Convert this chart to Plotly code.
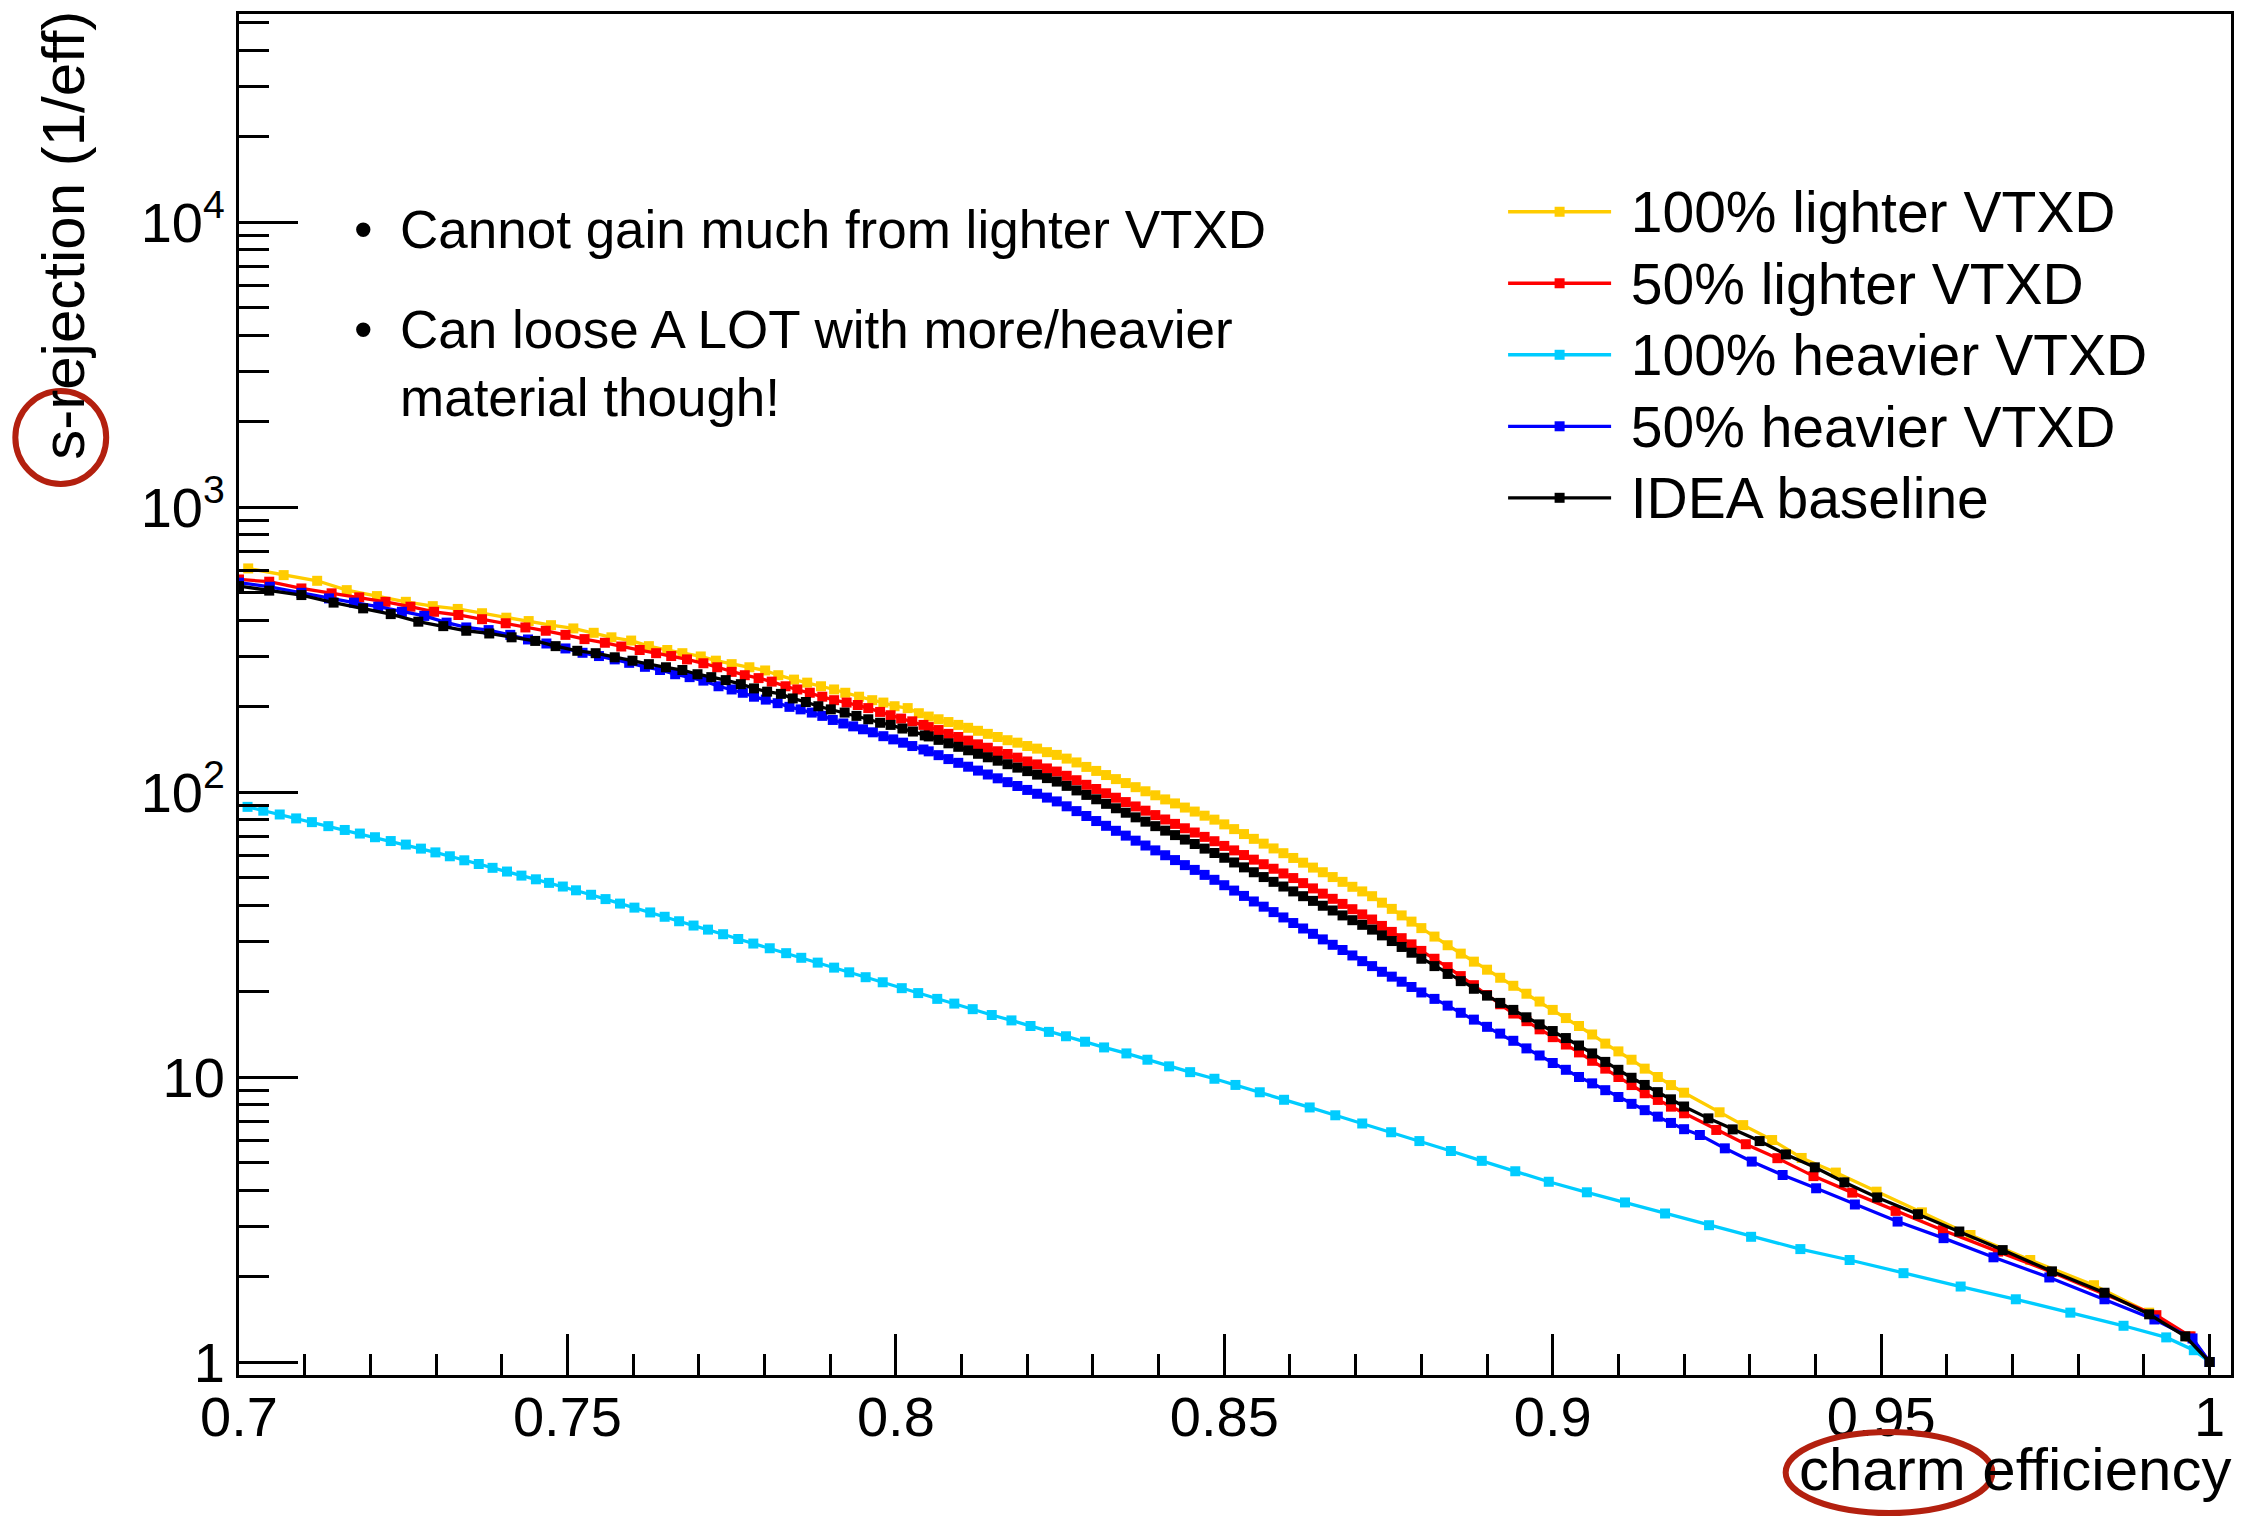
import plotly.graph_objects as go

# ---------------- data ----------------
# shared efficiency grid for the dense middle part of the four main curves
eff_mid = [0.805, 0.8065, 0.808, 0.8095, 0.811, 0.8125, 0.814, 0.8155, 0.817, 0.8185,
           0.820, 0.8215, 0.823, 0.8245, 0.826, 0.8275, 0.829, 0.8305, 0.832, 0.8335,
           0.835, 0.8365, 0.838, 0.8395, 0.841, 0.8425, 0.844, 0.8455, 0.847, 0.8485,
           0.850, 0.8515, 0.853, 0.8545, 0.856, 0.8575, 0.859, 0.8605, 0.862, 0.8635,
           0.865, 0.8665, 0.868, 0.8695, 0.871, 0.8725, 0.874, 0.8755, 0.877, 0.8785,
           0.880, 0.882, 0.884, 0.886, 0.888, 0.890, 0.892, 0.894, 0.896, 0.898,
           0.900, 0.902, 0.904, 0.906, 0.908, 0.910, 0.912, 0.914, 0.916, 0.918, 0.920]

# 100% lighter VTXD (yellow)
yellow_eff_lo = [0.7014, 0.7068, 0.7119, 0.7164, 0.7210, 0.7254, 0.7295, 0.7333, 0.7370, 0.7407,
                 0.7441, 0.7475, 0.7509, 0.7540, 0.7567, 0.7597, 0.7624, 0.7652, 0.7675, 0.7703,
                 0.7726, 0.7750, 0.7777, 0.7801, 0.7821, 0.7845, 0.7865, 0.7886, 0.7906, 0.7923,
                 0.7944, 0.7964, 0.7981, 0.7998, 0.8018, 0.8035]
yellow_rej_lo = [609, 577, 551, 511, 487, 465, 449, 439, 424, 409,
                 398, 385, 375, 362, 349, 340, 325, 315, 307, 299,
                 289, 281, 274, 267, 257, 248, 242, 235, 229, 223,
                 216, 210, 206, 200, 197, 189]
yellow_rej_mid = [184, 180, 176, 172, 168, 164, 160, 156, 152, 149,
                  145, 142, 138, 135, 131, 127, 122.5, 118.6, 114.7, 111,
                  107.5, 104, 100.6, 97.4, 94.2, 91.2, 88.2, 85.4, 82.6, 80.0,
                  77.0, 74.1, 71.2, 68.5, 65.9, 63.4, 61.0, 58.7, 56.5, 54.3,
                  52.3, 50.3, 48.4, 46.5, 44.8, 43.1, 40.9, 38.9, 36.9, 35.1,
                  33.3, 31.1, 29.0, 27.1, 25.4, 23.8, 22.3, 20.9, 19.6, 18.4,
                  17.2, 16.1, 15.1, 14.1, 13.1, 12.3, 11.5, 10.7, 10.0, 9.37, 8.81]
yellow_eff_hi = [0.9254, 0.9290, 0.9334, 0.9379, 0.9431, 0.9493, 0.9562, 0.9636, 0.9727, 0.9824,
                 0.9908, 0.9969, 1.0]
yellow_rej_hi = [7.52, 6.78, 6.01, 5.20, 4.62, 3.96, 3.35, 2.79, 2.28, 1.86, 1.49, 1.23, 1.0]

# 50% lighter VTXD (red)
red_eff_lo = [0.7000, 0.7046, 0.7095, 0.7141, 0.7183, 0.7223, 0.7261, 0.7297, 0.7334, 0.7370,
              0.7406, 0.7436, 0.7467, 0.7497, 0.7526, 0.7557, 0.7582, 0.7610, 0.7635, 0.7658,
              0.7682, 0.7707, 0.7728, 0.7750, 0.7770, 0.7791, 0.7811, 0.7832, 0.7850, 0.7869,
              0.7888, 0.7906, 0.7925, 0.7942, 0.7958, 0.7976, 0.7992, 0.8008, 0.8025, 0.8042]
red_rej_lo = [557, 547, 518, 498, 482, 465, 447, 429, 418, 404,
              391, 378, 368, 356, 344, 334, 324, 315, 307, 300,
              292, 283, 274, 264, 257, 251, 244, 235, 229, 223,
              216, 210, 206, 202, 197, 191, 186, 181, 177, 172]
red_rej_mid = [169, 165, 160, 156, 151.5, 147, 143, 139, 136, 132,
               128, 125, 121, 118, 114, 110, 106, 102.5, 99.0, 95.5,
               92.2, 89.0, 86.0, 83.0, 80.1, 77.3, 74.6, 72.1, 69.6, 67.2,
               64.7, 62.4, 60.1, 57.9, 55.8, 53.8, 51.8, 49.9, 47.9, 45.9,
               44.0, 42.2, 40.5, 38.8, 37.2, 35.7, 33.9, 32.3, 30.7, 29.2,
               27.7, 26.0, 24.3, 22.6, 21.0, 19.4, 18.0, 16.7, 15.7, 14.7,
               13.8, 13.0, 12.2, 11.4, 10.7, 10.0, 9.37, 8.77, 8.31, 7.87, 7.46]
red_eff_hi = [0.9249, 0.9294, 0.9342, 0.9397, 0.9456, 0.9522, 0.9594, 0.9678, 0.9759, 0.9840,
              0.9919, 0.9971, 1.0]
red_rej_hi = [6.52, 5.81, 5.19, 4.49, 3.93, 3.39, 2.90, 2.44, 2.07, 1.73, 1.46, 1.23, 1.0]

# 100% heavier VTXD (cyan)
cyan_eff = [0.7013, 0.7037, 0.7062, 0.7087, 0.7111, 0.7136, 0.7161, 0.7184, 0.7207, 0.7231,
            0.7254, 0.7277, 0.7299, 0.7321, 0.7343, 0.7365, 0.7386, 0.7408, 0.7430, 0.7452,
            0.7472, 0.7493, 0.7513, 0.7536, 0.7558, 0.7580, 0.7602, 0.7626, 0.7648, 0.7670,
            0.7692, 0.7714, 0.7737, 0.7760, 0.7783, 0.7808, 0.7833, 0.7856, 0.7881, 0.7906,
            0.7929, 0.7954, 0.7980, 0.8009, 0.8034, 0.8063, 0.8089, 0.8117, 0.8146, 0.8176,
            0.8205, 0.8233, 0.8259, 0.8288, 0.8317, 0.8351, 0.8383, 0.8416, 0.8448, 0.8485,
            0.8517, 0.8554, 0.8591, 0.8630, 0.8669, 0.8710, 0.8754, 0.8797, 0.8845, 0.8892,
            0.8943, 0.8994, 0.9052, 0.9110, 0.9171, 0.9238, 0.9302, 0.9377, 0.9452, 0.9534,
            0.9621, 0.9705, 0.9788, 0.9869, 0.9934, 0.9976, 1.0]
cyan_rej = [88.7, 86.0, 83.4, 80.8, 78.4, 75.9, 73.6, 71.5, 69.4, 67.3,
            65.4, 63.3, 61.4, 59.5, 57.6, 55.9, 54.2, 52.6, 50.9, 49.4,
            48.0, 46.6, 45.2, 43.6, 42.1, 40.6, 39.3, 37.8, 36.5, 35.2,
            34.0, 32.9, 31.7, 30.5, 29.4, 28.3, 27.2, 26.2, 25.2, 24.2,
            23.3, 22.4, 21.5, 20.5, 19.7, 18.8, 18.1, 17.3, 16.5, 15.8,
            15.1, 14.4, 13.9, 13.3, 12.7, 12.1, 11.5, 10.9, 10.4, 9.86,
            9.38, 8.84, 8.32, 7.82, 7.34, 6.87, 6.40, 5.96, 5.50, 5.08,
            4.67, 4.29, 3.94, 3.63, 3.32, 3.02, 2.75, 2.49, 2.28, 2.05,
            1.84, 1.66, 1.49, 1.34, 1.22, 1.10, 1.0]

# 50% heavier VTXD (blue)
blue_eff_lo = [0.7000, 0.7047, 0.7095, 0.7137, 0.7175, 0.7212, 0.7248, 0.7282, 0.7316, 0.7346,
               0.7380, 0.7413, 0.7440, 0.7468, 0.7497, 0.7523, 0.7548, 0.7572, 0.7594, 0.7618,
               0.7641, 0.7664, 0.7686, 0.7707, 0.7730, 0.7750, 0.7767, 0.7784, 0.7802, 0.7820,
               0.7838, 0.7855, 0.7872, 0.7888, 0.7904, 0.7920, 0.7935, 0.7950, 0.7965, 0.7981,
               0.7996, 0.8011, 0.8025, 0.8042]
blue_rej_lo = [543, 525, 500, 478, 462, 447, 429, 415, 393, 378,
               370, 356, 343, 332, 319, 308, 300, 292, 284, 275,
               268, 259, 253, 246, 235, 229, 223, 216, 211, 205,
               199, 195, 190, 185, 179, 174, 170, 166, 162, 157,
               153, 149, 145, 141]
blue_rej_mid = [138.9, 134.7, 130.5, 126.6, 122.7, 118.9, 115.2, 111.7, 108.3, 105.0,
                101.7, 98.6, 95.6, 92.7, 89.1, 85.7, 82.4, 79.1, 76.1, 73.1,
                70.3, 67.5, 64.9, 62.4, 60.0, 57.7, 55.4, 53.3, 51.2, 49.2,
                47.1, 45.1, 43.2, 41.3, 39.6, 37.9, 36.3, 34.7, 33.2, 31.8,
                30.4, 29.1, 27.9, 26.7, 25.5, 24.5, 23.4, 22.5, 21.6, 20.7,
                19.8, 18.8, 17.8, 16.8, 15.9, 15.0, 14.2, 13.4, 12.6, 11.9,
                11.2, 10.6, 10.0, 9.50, 8.99, 8.51, 8.05, 7.65, 7.26, 6.90, 6.56]
blue_eff_hi = [0.9224, 0.9262, 0.9303, 0.9350, 0.9401, 0.9460, 0.9525, 0.9595, 0.9671, 0.9756,
               0.9840, 0.9916, 0.9974, 1.0]
blue_rej_hi = [6.26, 5.62, 5.05, 4.53, 4.07, 3.57, 3.11, 2.72, 2.33, 1.98, 1.66, 1.41, 1.21, 1.0]

# IDEA baseline (black)
black_eff_lo = [0.7000, 0.7046, 0.7095, 0.7144, 0.7189, 0.7231, 0.7273, 0.7311, 0.7346, 0.7381,
                0.7415, 0.7451, 0.7482, 0.7515, 0.7543, 0.7572, 0.7599, 0.7624, 0.7650, 0.7675,
                0.7698, 0.7719, 0.7741, 0.7764, 0.7784, 0.7804, 0.7825, 0.7843, 0.7863, 0.7882,
                0.7901, 0.7922, 0.7940, 0.7958, 0.7976, 0.7992, 0.8010, 0.8026, 0.8044]
black_rej_lo = [528, 509, 491, 462, 441, 421, 396, 382, 368, 360,
                349, 339, 325, 313, 307, 297, 289, 281, 274, 268,
                259, 253, 247, 239, 231, 225, 221, 213, 207, 200,
                195, 190, 185, 180, 175, 172, 167, 163, 158]
black_rej_mid = [156.7, 152.4, 148.2, 144.1, 140.1, 136.2, 132.4, 128.8, 125.2, 121.8,
                 118.4, 115.1, 111.9, 108.8, 105.1, 101.3, 97.7, 94.3, 90.9, 87.7,
                 84.6, 81.5, 78.7, 75.9, 73.2, 70.6, 68.1, 65.7, 63.3, 61.1,
                 58.8, 56.6, 54.4, 52.3, 50.3, 48.4, 46.6, 44.8, 43.1, 41.5,
                 39.9, 38.4, 36.9, 35.5, 34.2, 32.9, 31.4, 30.0, 28.6, 27.3,
                 26.0, 24.5, 23.0, 21.7, 20.4, 19.3, 18.2, 17.2, 16.2, 15.3,
                 14.5, 13.7, 12.9, 12.1, 11.3, 10.6, 9.94, 9.38, 8.85, 8.35, 7.88]
black_eff_hi = [0.9237, 0.9274, 0.9315, 0.9355, 0.9399, 0.9444, 0.9494, 0.9556, 0.9619, 0.9685,
                0.9760, 0.9840, 0.9908, 0.9963, 1.0]
black_rej_hi = [7.16, 6.55, 5.96, 5.35, 4.82, 4.27, 3.78, 3.30, 2.87, 2.47, 2.08, 1.75, 1.47, 1.23, 1.0]

series_names = ["100% lighter VTXD", "50% lighter VTXD", "100% heavier VTXD",
                "50% heavier VTXD", "IDEA baseline"]
series_colors = ["#FFCC00", "#FF0000", "#00CCFF", "#0000FF", "#000000"]

x_tick_vals = [0.7, 0.75, 0.8, 0.85, 0.9, 0.95, 1.0]
x_tick_text = ["0.7", "0.75", "0.8", "0.85", "0.9", "0.95", "1"]
x_minor_vals = [0.71, 0.72, 0.73, 0.74, 0.76, 0.77, 0.78, 0.79, 0.81, 0.82, 0.83, 0.84,
                0.86, 0.87, 0.88, 0.89, 0.91, 0.92, 0.93, 0.94, 0.96, 0.97, 0.98, 0.99]
y_tick_vals = [1, 10, 100, 1000, 10000]
y_tick_text = ["1", "10", "10<sup>2</sup>", "10<sup>3</sup>", "10<sup>4</sup>"]
y_minor_vals = [m * d for d in (1, 10, 100, 1000) for m in range(2, 10)] + [20000, 30000, 40000, 50000]

bullet_lines = ["Cannot gain much from lighter VTXD",
                "Can loose A LOT with more/heavier",
                "material though!"]

# ---------------- assemble series ----------------
xs = [yellow_eff_lo + eff_mid + yellow_eff_hi,
      red_eff_lo + eff_mid + red_eff_hi,
      cyan_eff,
      blue_eff_lo + eff_mid + blue_eff_hi,
      black_eff_lo + eff_mid + black_eff_hi]
ys = [yellow_rej_lo + yellow_rej_mid + yellow_rej_hi,
      red_rej_lo + red_rej_mid + red_rej_hi,
      cyan_rej,
      blue_rej_lo + blue_rej_mid + blue_rej_hi,
      black_rej_lo + black_rej_mid + black_rej_hi]

# ---------------- layout geometry ----------------
W, H = 2241, 1516
ML, MR, MT, MB = 239, 7, 14, 141
PW, PH = W - ML - MR, H - MT - MB
FONT = "Liberation Sans, Arial, Helvetica, sans-serif"


def px(xp):
    return (xp - ML) / PW


def py(yp):
    return (H - MB - yp) / PH


fig = go.Figure()
for name, color, x, y in zip(series_names, series_colors, xs, ys):
    fig.add_trace(go.Scatter(
        x=x, y=y, mode="lines+markers",
        name="&nbsp;<span style='font-size:57px'>" + name + "</span>",
        line=dict(color=color, width=3.3),
        marker=dict(symbol="square", size=10, color=color, line=dict(width=0)),
    ))

axis_common = dict(showline=True, linecolor="black", linewidth=3, mirror=True,
                   showgrid=False, zeroline=False, ticks="inside", tickcolor="black",
                   tickwidth=3, tickmode="array",
                   tickfont=dict(family=FONT, size=56, color="black"))

fig.update_xaxes(range=[0.7, 1.00326], tickvals=x_tick_vals, ticktext=x_tick_text,
                 ticklen=41, ticklabelstandoff=-9,
                 minor=dict(tickmode="array", tickvals=x_minor_vals, ticks="inside",
                            ticklen=21, tickwidth=3, tickcolor="black", showgrid=False),
                 **axis_common)
fig.update_yaxes(type="log", range=[-0.0456, 4.730], tickvals=y_tick_vals, ticktext=y_tick_text,
                 ticklen=59,
                 minor=dict(tickmode="array", tickvals=y_minor_vals, ticks="inside",
                            ticklen=30, tickwidth=3, tickcolor="black", showgrid=False),
                 **axis_common)

annotations = [
    dict(text="s-rejection (1/eff)", textangle=-90, xref="paper", yref="paper",
         x=px(63), y=py(9), xanchor="center", yanchor="top", showarrow=False,
         font=dict(family=FONT, size=60, color="black")),
    dict(text="charm efficiency", xref="paper", yref="paper",
         x=px(2236), y=py(1469), xanchor="right", yanchor="middle", showarrow=False,
         font=dict(family=FONT, size=60, color="black")),
]
for yy in (229, 329):
    annotations.append(dict(text="•", xref="paper", yref="paper", x=px(352), y=py(yy),
                            xanchor="left", yanchor="middle", showarrow=False,
                            font=dict(family=FONT, size=53, color="black")))
for txt, yy in zip(bullet_lines, (229, 329, 397)):
    annotations.append(dict(text=txt, xref="paper", yref="paper", x=px(398), y=py(yy),
                            xanchor="left", yanchor="middle", showarrow=False,
                            font=dict(family=FONT, size=53, color="black")))

shapes = [
    dict(type="circle", xref="paper", yref="paper",
         x0=px(15), x1=px(106), y0=py(484), y1=py(391),
         line=dict(color="#B3200F", width=6)),
    dict(type="circle", xref="paper", yref="paper",
         x0=px(1788), x1=px(1995), y0=py(1513), y1=py(1432),
         line=dict(color="#B3200F", width=6)),
]

fig.update_layout(
    width=W, height=H,
    margin=dict(l=ML, r=MR, t=MT, b=MB, pad=0),
    paper_bgcolor="white", plot_bgcolor="white",
    font=dict(family=FONT, size=56, color="black"),
    showlegend=True,
    legend=dict(x=px(1505), y=py(171), xanchor="left", yanchor="top",
                bgcolor="rgba(0,0,0,0)", borderwidth=0, itemwidth=103,
                font=dict(family=FONT, size=52.7, color="black"),
                tracegroupgap=0),
    annotations=annotations,
    shapes=shapes,
)

fig.write_html("out.html")
